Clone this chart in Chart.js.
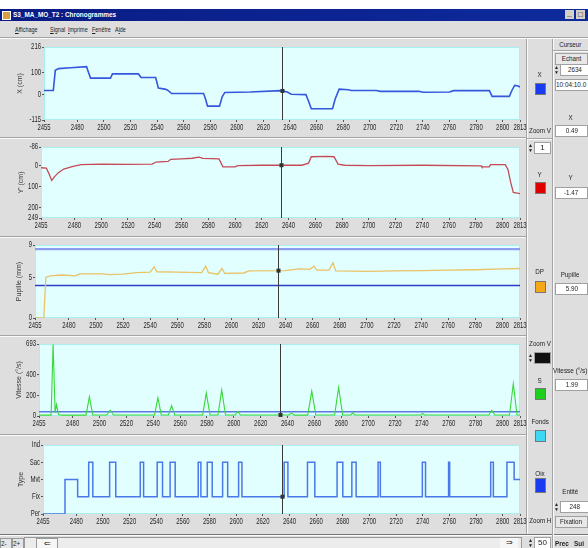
<!DOCTYPE html>
<html lang="fr">
<head>
<meta charset="utf-8">
<title>S3_MA_MO_T2 : Chronogrammes</title>
<script src="https://cdn.jsdelivr.net/npm/chart.js@4.4.1/dist/chart.umd.min.js"></script>
<style>
  html, body { margin: 0; padding: 0; }
  body { width: 588px; height: 548px; overflow: hidden; position: relative; background: #fff;
         font-family: 'Liberation Sans', Arial, sans-serif; font-size: 8px; color: #222; }
  .a { position: absolute; white-space: nowrap; }
  .c { display: inline-block; transform: scaleX(0.78); }
  .cl { display: inline-block; transform: scaleX(0.8); transform-origin: left center; }
  .cm { display: inline-block; transform: scaleX(0.68); transform-origin: left center; }
  #win { left: 0; top: 9px; width: 588px; height: 539px; background: #dedede; }
  #titlebar { left: 0; top: 9px; width: 588px; height: 12px; background: linear-gradient(90deg, #0a1c84, #0d2a9c);
              color: #fff; font-weight: bold; font-size: 8px; line-height: 12px; }
  .menu { top: 23px; line-height: 14px; font-size: 8px; }
  .hsep { height: 0; border-top: 1px solid #a4a4a4; border-bottom: 1px solid #fafafa; }
  .vsep { width: 0; border-left: 1px solid #a4a4a4; border-right: 1px solid #fafafa; }
  .lbl { text-align: center; width: 28px; left: 526px; }
  .sw { width: 9px; height: 10px; left: 535px; border: 1px solid #777; }
  .box { background: #fff; border: 1px solid #a0a0a0; text-align: center; height: 10px; line-height: 10px; overflow: hidden; }
  .pl { text-align: center; width: 35px; left: 553px; overflow: hidden; }
  .spin { width: 4px; height: 10px; font-size: 5px; line-height: 5px; text-align: center; }
  canvas { position: absolute; left: 0; }
</style>
</head>
<body>
<div id="win" class="a"></div>
<div id="titlebar" class="a">
  <span class="a" style="left:2px;top:2px;width:7px;height:7px;background:#d8a040;border:1px solid #fff;"></span>
  <span class="a cl" style="left:13px;top:0;">S3_MA_MO_T2 : Chronogrammes</span>
  <span class="a" style="left:565px;top:1px;width:9px;height:9px;background:#d4d0c8;color:#000;line-height:8px;text-align:center;">_</span>
  <span class="a" style="left:576px;top:1px;width:9px;height:9px;background:#d4d0c8;color:#000;line-height:9px;text-align:center;">&#9633;</span>
</div>
<div class="a menu" style="left:15px;"><span class="cm"><u>A</u>ffichage</span></div>
<div class="a menu" style="left:50px;"><span class="cm"><u>S</u>ignal</span></div>
<div class="a menu" style="left:68px;"><span class="cm"><u>I</u>mprime</span></div>
<div class="a menu" style="left:92px;"><span class="cm"><u>F</u>enêtre</span></div>
<div class="a menu" style="left:115px;"><span class="cm">A<u>i</u>de</span></div>
<div class="a hsep" style="left:0;top:37px;width:588px;"></div>

<!-- separators between the five strips -->
<div class="a hsep" style="left:0;top:137px;width:527px;"></div>
<div class="a hsep" style="left:0;top:236px;width:527px;"></div>
<div class="a hsep" style="left:0;top:335px;width:527px;"></div>
<div class="a hsep" style="left:0;top:434px;width:527px;"></div>
<div class="a hsep" style="left:0;top:534px;width:588px;border-top-color:#777;"></div>
<div class="a vsep" style="left:526px;top:39px;height:495px;"></div>
<div class="a vsep" style="left:552px;top:39px;height:509px;"></div>

<canvas id="cX" width="534" height="97" style="top:40px"></canvas>
<canvas id="cY" width="534" height="97" style="top:139px"></canvas>
<canvas id="cP" width="534" height="97" style="top:238px"></canvas>
<canvas id="cV" width="534" height="97" style="top:337px"></canvas>
<canvas id="cT" width="534" height="97" style="top:436px"></canvas>

<!-- legend column -->
<div class="a lbl" style="top:70px;"><span class="c">X</span></div>
<div class="a sw" style="top:83px;background:#1a3cf0;"></div>
<div class="a lbl" style="top:126px;"><span class="c">Zoom V</span></div>
<div class="a hsep" style="left:527px;top:138px;width:25px;"></div>
<div class="a spin" style="left:528px;top:143px;">&#9650;<br>&#9660;</div>
<div class="a box" style="left:534px;top:142px;width:15px;">1</div>
<div class="a lbl" style="top:170px;"><span class="c">Y</span></div>
<div class="a sw" style="top:182px;background:#e00000;"></div>
<div class="a lbl" style="top:267px;"><span class="c">DP</span></div>
<div class="a sw" style="top:281px;background:#f4a818;"></div>
<div class="a lbl" style="top:339px;"><span class="c">Zoom V</span></div>
<div class="a spin" style="left:528px;top:353px;">&#9650;<br>&#9660;</div>
<div class="a box" style="left:534px;top:352px;width:15px;background:#111;"></div>
<div class="a lbl" style="top:376px;"><span class="c">S</span></div>
<div class="a sw" style="top:388px;background:#1ed01e;"></div>
<div class="a lbl" style="top:417px;"><span class="c">Fonds</span></div>
<div class="a sw" style="top:430px;background:#3cd8f4;"></div>
<div class="a lbl" style="top:469px;"><span class="c">Oix</span></div>
<div class="a sw" style="top:478px;height:13px;background:#1a3cf0;"></div>
<div class="a lbl" style="top:516px;"><span class="c">Zoom H</span></div>
<div class="a spin" style="left:528px;top:538px;">&#9650;<br>&#9660;</div>
<div class="a box" style="left:534px;top:537px;width:15px;">50</div>

<!-- cursor panel -->
<div class="a pl" style="top:40px;"><span class="c">Curseur</span></div>
<div class="a hsep" style="left:553px;top:50px;width:35px;"></div>
<div class="a box" style="left:555px;top:53px;width:31px;background:#e8e8e8;"><span class="c">Echant</span></div>
<div class="a spin" style="left:554px;top:65px;">&#9650;<br>&#9660;</div>
<div class="a box" style="left:560px;top:64px;width:27px;"><span class="c">2634</span></div>
<div class="a box" style="left:555px;top:79px;width:33px;text-align:left;"><span class="cl">10:04:10.0</span></div>
<div class="a pl" style="top:113px;"><span class="c">X</span></div>
<div class="a box" style="left:555px;top:125px;width:31px;"><span class="c">0.49</span></div>
<div class="a pl" style="top:173px;"><span class="c">Y</span></div>
<div class="a box" style="left:555px;top:187px;width:31px;"><span class="c">-1.47</span></div>
<div class="a pl" style="top:270px;"><span class="c">Pupille</span></div>
<div class="a box" style="left:555px;top:283px;width:31px;"><span class="c">5.90</span></div>
<div class="a pl" style="top:366px;text-align:left;"><span class="cl">Vitesse (°/s)</span></div>
<div class="a box" style="left:555px;top:379px;width:31px;"><span class="c">1.99</span></div>
<div class="a pl" style="top:487px;"><span class="c">Entité</span></div>
<div class="a spin" style="left:554px;top:502px;">&#9650;<br>&#9660;</div>
<div class="a box" style="left:560px;top:501px;width:27px;"><span class="c">248</span></div>
<div class="a box" style="left:555px;top:516px;width:31px;background:#e8e8e8;"><span class="c">Fixation</span></div>
<div class="a" style="left:555px;top:539px;font-weight:bold;"><span class="cl">Prec</span></div>
<div class="a" style="left:574px;top:539px;font-weight:bold;"><span class="cl">Sui</span></div>

<!-- bottom scroll bar -->
<div class="a" style="left:0;top:538px;width:10px;height:10px;background:#e6e6e6;border:1px solid #999;line-height:10px;"><span class="cl">2-</span></div>
<div class="a" style="left:12px;top:538px;width:10px;height:10px;background:#e6e6e6;border:1px solid #999;line-height:10px;"><span class="cl">2+</span></div>
<div class="a" style="left:24px;top:537px;width:496px;height:11px;background:#ececec;border:1px solid #999;"></div>
<div class="a" style="left:36px;top:538px;width:20px;height:10px;background:#f6f6f6;border:1px solid #999;text-align:center;line-height:10px;">&#8656;</div>
<div class="a" style="left:500px;top:538px;width:18px;height:10px;background:#f6f6f6;text-align:center;line-height:10px;">&#8658;</div>

<script>
// time axis (sample numbers)
const tickTimes = [2455, 2480, 2500, 2520, 2540, 2560, 2580, 2600, 2620, 2640,
                   2660, 2680, 2700, 2720, 2740, 2760, 2780, 2800, 2813];
const timeMin = 2455;
const timeMax = 2813;
const cursorTime = 2634;

// X position (cm)
const posX = [[2455, 19], [2462, 19], [2463.5, 110], [2466, 118], [2475, 122], [2487, 127], [2488.5, 100],
  [2490, 75], [2505, 75], [2506.5, 94], [2526, 94], [2528, 78], [2539, 78], [2541, 30], [2546, 25],
  [2548, 20], [2551, 5], [2575, 5], [2576.5, -20], [2578, -52], [2587, -52], [2589, -10], [2591, 10],
  [2610, 12], [2633, 18], [2638, 12], [2641, 2], [2652, 0], [2654, -30], [2656, -64], [2672, -64],
  [2674, -20], [2677, 25], [2684, 22], [2686, 19], [2705, 19], [2708, 15], [2737, 15], [2740, 11],
  [2760, 12], [2763, 18], [2790, 18], [2792, -8], [2805, -8], [2807, 20], [2809, 42], [2811, 40], [2813, 35]];
const posXTicks = [-115, 0, 100, 216];

// Y' position (cm), axis drawn downward
const posY = [[2455, 12], [2459, 14], [2461, 40], [2463, 72], [2465, 55], [2468, 35], [2472, 18],
  [2479, 5], [2485, -3], [2500, -5], [2520, -4], [2538, -5], [2541, -15], [2550, -18], [2552, -28],
  [2560, -30], [2568, -33], [2573, -38], [2576, -32], [2588, -30], [2590, -5], [2591, 8], [2600, 8],
  [2602, 2], [2620, 0], [2650, 0], [2655, -10], [2657, -40], [2668, -42], [2674, -40], [2677, -5],
  [2682, 0], [2700, 2], [2740, 0], [2784, 3], [2784.5, 8], [2790, 8], [2791, -3], [2802, -3],
  [2804, 20], [2806, 80], [2808, 128], [2813, 134]];
const posYTicks = [-86, 0, 100, 200, 249];

// pupil diameter (mm) and its two reference levels
const pupil = [[2455, 0], [2461.5, 0], [2463, 5.0], [2466, 5.2], [2475, 5.3], [2485, 5.2], [2488, 5.45],
  [2505, 5.45], [2510, 5.35], [2520, 5.4], [2530, 5.6], [2540, 5.65], [2543, 6.3], [2545, 5.7],
  [2560, 5.65], [2578, 5.6], [2581, 6.4], [2583, 5.6], [2590, 5.4], [2593, 6.1], [2595, 5.5],
  [2609, 5.55], [2613, 5.8], [2640, 5.85], [2650, 6.05], [2658, 6.0], [2661, 6.4], [2663, 5.9],
  [2672, 5.9], [2675, 6.8], [2677, 5.8], [2700, 5.75], [2720, 5.8], [2740, 5.85], [2760, 5.9],
  [2780, 5.95], [2800, 6.05], [2813, 6.1]];
const pupilLow = 4;
const pupilHigh = 8.5;
const pupilTicks = [0, 5, 9];

// eye speed (deg/s) and saccade threshold
const speed = [[2455, 8], [2464, 8], [2465.5, 690], [2467, 30], [2468, 110], [2469.5, 15], [2472, 8],
  [2490, 8], [2492.5, 185], [2495, 10], [2505.5, 10], [2508, 55], [2510.5, 10], [2541, 10],
  [2543.5, 175], [2546, 10], [2551.3, 10], [2553.7, 100], [2556, 10], [2576.8, 10], [2579.5, 220],
  [2582.3, 10], [2588.2, 10], [2591, 250], [2593.8, 10], [2601, 10], [2603, 45], [2605, 10],
  [2641, 10], [2643, 30], [2645, 8], [2655, 8], [2658, 240], [2661, 10], [2675, 10], [2678, 275],
  [2681, 10], [2687, 10], [2688.5, 30], [2690, 10], [2739, 10], [2740.5, 25], [2742, 10], [2789.8, 10],
  [2792, 55], [2794.2, 10], [2805.2, 10], [2808, 310], [2810.8, 10], [2813, 10]];
const speedLimit = 40;
const speedTicks = [0, 200, 400, 693];

// event type, one entry per change of state
const typeNames = ['Per', 'Fix', 'Mvt', 'Sac', 'Ind'];
const typeSteps = [[2455, 0], [2471.5, 2], [2481, 1], [2489.3, 3], [2492.4, 1], [2505, 3], [2509.6, 1],
  [2528, 3], [2530.5, 1], [2540.7, 3], [2544.7, 1], [2550.4, 3], [2554.2, 1], [2571.5, 3], [2573.5, 1],
  [2578.3, 3], [2582, 1], [2589.8, 3], [2593.6, 1], [2601.8, 3], [2604.3, 1], [2636, 3], [2638.8, 1],
  [2653.5, 3], [2659, 1], [2675.7, 3], [2680, 1], [2686.8, 3], [2690, 1], [2706.5, 3], [2708.2, 1],
  [2739.7, 3], [2742.1, 1], [2759.4, 3], [2760.2, 1], [2791, 3], [2793, 1], [2803.2, 3], [2808.6, 2],
  [2813, 2]];

const FONT = "'Liberation Sans', Arial, sans-serif";
Chart.defaults.font.family = FONT;
Chart.defaults.font.size = 8;
Chart.defaults.color = '#333';

const pts = arr => arr.map(([x, y]) => ({ x, y }));
const hline = v => [{ x: timeMin, y: v }, { x: timeMax, y: v }];

function valueAt(data, t, stepped) {
  for (let i = 1; i < data.length; i++) {
    const a = data[i - 1], b = data[i];
    if (t <= b.x) {
      if (stepped) return a.y;
      return a.y + (b.y - a.y) * (t - a.x) / (b.x - a.x);
    }
  }
  return data[data.length - 1].y;
}

// light cyan plotting area
const plotBg = {
  id: 'plotBg',
  beforeDraw(chart) {
    const { ctx, chartArea: a } = chart;
    ctx.save();
    ctx.fillStyle = '#e2ffff';
    ctx.fillRect(a.left, a.top, a.width, a.height);
    ctx.strokeStyle = '#a8f0f0';
    ctx.strokeRect(a.left + 0.5, a.top + 0.5, a.width - 1, a.height - 1);
    ctx.restore();
  }
};

// vertical cursor with a marker on the first curve
const cursor = {
  id: 'cursor',
  afterDatasetsDraw(chart) {
    const { ctx, chartArea: a, scales } = chart;
    const px = Math.round(scales.x.getPixelForValue(cursorTime)) + 0.5;
    ctx.save();
    ctx.strokeStyle = '#3a3a3a';
    ctx.lineWidth = 1;
    ctx.beginPath();
    ctx.moveTo(px, a.top);
    ctx.lineTo(px, a.bottom);
    ctx.stroke();
    const ds = chart.data.datasets[0];
    const py = scales.y.getPixelForValue(valueAt(ds.data, cursorTime, ds.stepped));
    ctx.fillStyle = '#333';
    ctx.fillRect(px - 2, py - 2, 4, 4);
    ctx.restore();
  }
};

// tick labels in a squeezed face, placed from the scales' own ticks
const narrowTicks = {
  id: 'narrowTicks',
  afterDraw(chart) {
    const { ctx, chartArea: a } = chart;
    const sx = chart.scales.x, sy = chart.scales.y;
    const put = (txt, x, y) => {
      ctx.save();
      ctx.translate(x, y);
      ctx.scale(0.66, 1);
      ctx.fillText(txt, 0, 0);
      ctx.restore();
    };
    ctx.save();
    ctx.fillStyle = '#262626';
    ctx.font = '9px ' + FONT;
    ctx.textAlign = 'center';
    ctx.textBaseline = 'top';
    sx.ticks.forEach(t => put(t.label, sx.getPixelForValue(t.value), a.bottom + 3));
    ctx.textAlign = 'right';
    ctx.textBaseline = 'middle';
    sy.ticks.forEach(t => put(t.label, a.left - 3, sy.getPixelForValue(t.value)));
    ctx.restore();
  }
};

function strip(id, o) {
  return new Chart(document.getElementById(id), {
    type: 'line',
    data: { datasets: o.datasets },
    options: {
      responsive: false,
      animation: false,
      events: [],
      layout: { autoPadding: false, padding: { left: 0, top: o.top, right: 14, bottom: 0 } },
      plugins: { legend: { display: false }, tooltip: { enabled: false } },
      elements: { point: { radius: 0 }, line: { tension: 0 } },
      scales: {
        x: {
          type: 'linear', min: timeMin, max: timeMax,
          afterBuildTicks: s => { s.ticks = tickTimes.map(v => ({ value: v })); },
          afterFit: s => { s.height = 97 - o.top - o.plotH; },
          ticks: { display: false, autoSkip: false, callback: v => String(v) },
          grid: { drawOnChartArea: false, tickLength: 2, color: '#555' },
          border: { display: false }
        },
        y: {
          min: o.min, max: o.max, reverse: !!o.reverse,
          afterBuildTicks: s => { s.ticks = o.ticks.map(v => ({ value: v })); },
          afterFit: s => { s.width = o.left; },
          ticks: { display: false, callback: o.label || (v => String(v)) },
          grid: { drawOnChartArea: false, tickLength: 2, color: '#555' },
          border: { display: false },
          title: { display: true, text: o.title, font: { size: 7 }, padding: { top: o.titlePad, bottom: 0 } }
        }
      }
    },
    plugins: [plotBg, cursor, narrowTicks]
  });
}

strip('cX', {
  top: 7, plotH: 73, left: 44, titlePad: 16, title: 'X (cm)',
  min: -115, max: 216, ticks: posXTicks,
  datasets: [{ data: pts(posX), borderColor: '#3457dc', borderWidth: 1.6 }]
});

strip('cY', {
  top: 8, plotH: 71, left: 41, titlePad: 17, title: "Y' (cm)",
  min: -86, max: 249, ticks: posYTicks, reverse: true,
  datasets: [{ data: pts(posY), borderColor: '#c44a55', borderWidth: 1.3 }]
});

strip('cP', {
  top: 7, plotH: 73, left: 35, titlePad: 15, title: 'Pupille (mm)',
  min: 0, max: 9, ticks: pupilTicks,
  datasets: [
    { data: pts(pupil), borderColor: '#e9c266', borderWidth: 1.3 },
    { data: hline(pupilLow), borderColor: '#2a3cc8', borderWidth: 1.5 },
    { data: hline(pupilHigh), borderColor: '#8c9ef2', borderWidth: 2.2 }
  ]
});

strip('cV', {
  top: 7, plotH: 72, left: 39, titlePad: 15, title: 'Vitesse (°/s)',
  min: 0, max: 693, ticks: speedTicks,
  datasets: [
    { data: pts(speed), borderColor: '#38d838', borderWidth: 1.1 },
    { data: hline(speedLimit), borderColor: '#5a78e4', borderWidth: 1.5 }
  ]
});

strip('cT', {
  top: 9, plotH: 69, left: 43, titlePad: 17, title: 'Type',
  min: 0, max: 4, ticks: [0, 1, 2, 3, 4], label: v => typeNames[v],
  datasets: [{ data: pts(typeSteps), stepped: true, borderColor: '#4a78e8', borderWidth: 1.5 }]
});
</script>
</body>
</html>
